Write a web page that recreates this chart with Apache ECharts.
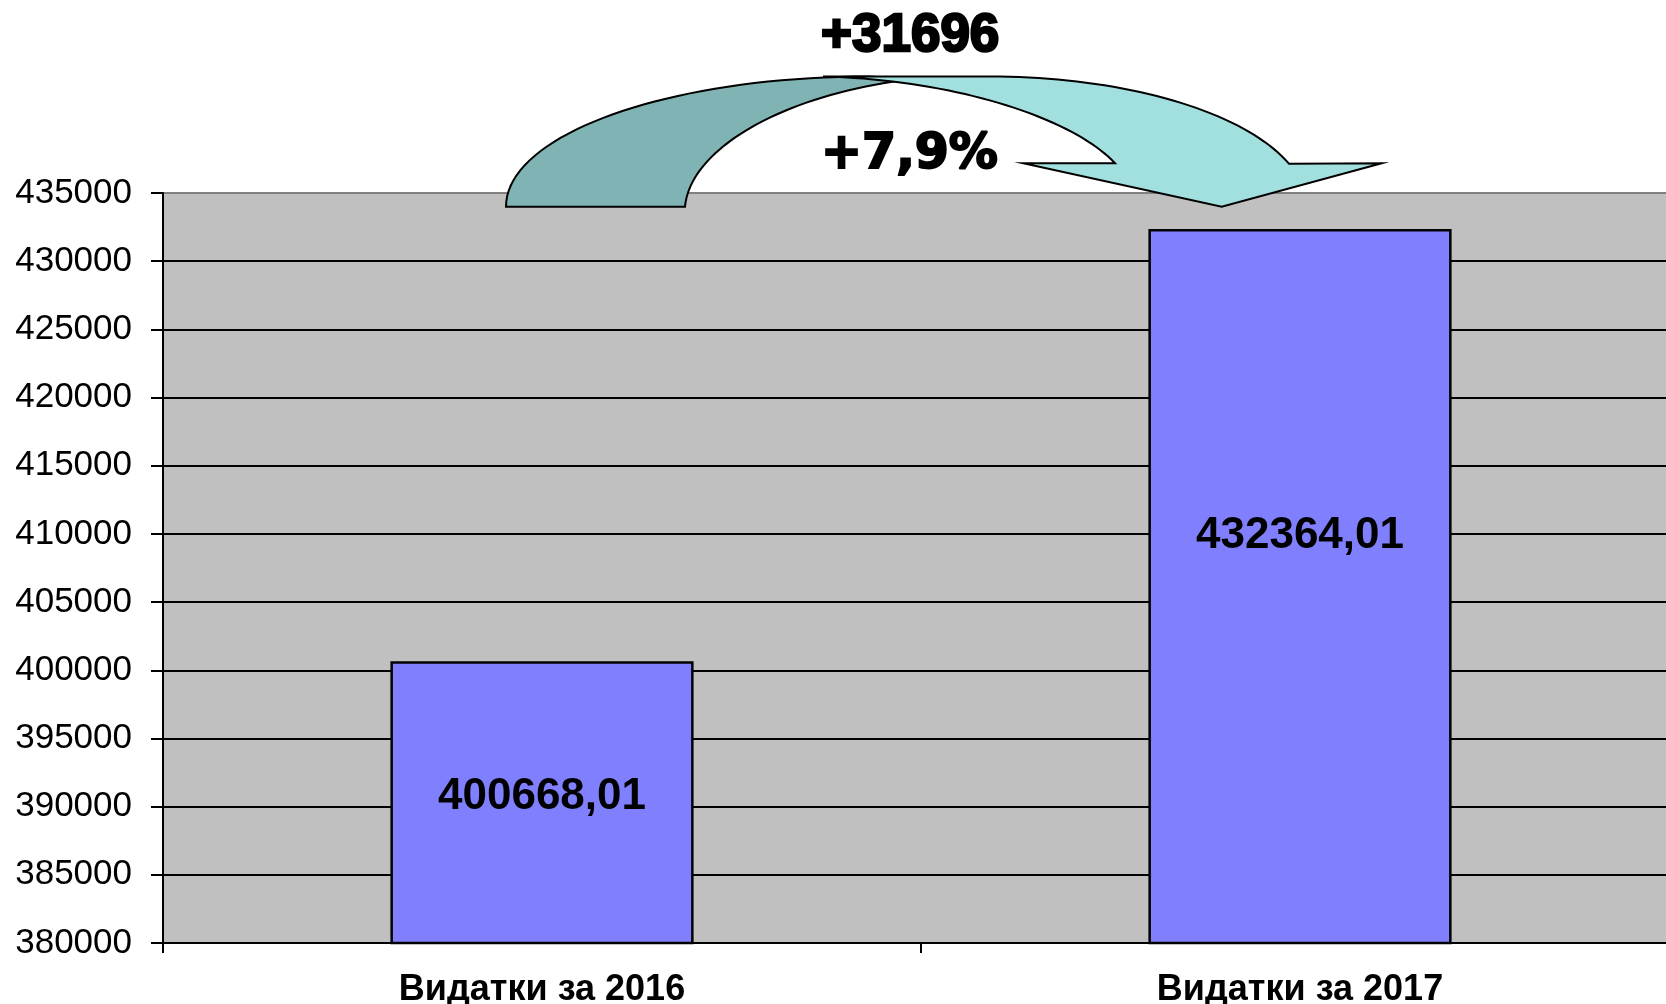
<!DOCTYPE html>
<html>
<head>
<meta charset="utf-8">
<script src="https://cdn.jsdelivr.net/npm/echarts@6/dist/echarts.min.js"></script>
<style>
  html, body { margin: 0; padding: 0; background: #fff; }
  #main { width: 1666px; height: 1004px; }
</style>
</head>
<body>
<div id="main"></div>
<script>
// chart data
const categories = ['Видатки за 2016', 'Видатки за 2017'];
const spending = [400668.01, 432364.01];
const yMin = 380000;
const yMax = 435000;
const yStep = 5000;

// change between the two years, shown over the arrow
const diff = Math.round(spending[1] - spending[0]);
const pct = ((spending[1] - spending[0]) / spending[0] * 100).toFixed(1).replace('.', ',');

const chart = echarts.init(document.getElementById('main'));

// gridline colours: the top line is grey, the rest black
const nLines = (yMax - yMin) / yStep + 1;
const lineColors = [];
for (let i = 0; i < nLines; i++) {
  lineColors.push(i === nLines - 1 ? '#808080' : '#000000');
}

// helpers for the curved arrow outline
function bezier(p0, p1, p2, p3, n) {
  const pts = [];
  for (let i = 0; i <= n; i++) {
    const t = i / n, u = 1 - t;
    pts.push([
      u * u * u * p0[0] + 3 * u * u * t * p1[0] + 3 * u * t * t * p2[0] + t * t * t * p3[0],
      u * u * u * p0[1] + 3 * u * u * t * p1[1] + 3 * u * t * t * p2[1] + t * t * t * p3[1]
    ]);
  }
  return pts;
}
function ellipse(cx, cy, rx, ry, a0, a1, n) {
  const pts = [];
  for (let i = 0; i <= n; i++) {
    const a = a0 + (a1 - a0) * i / n;
    pts.push([cx + rx * Math.cos(a), cy + ry * Math.sin(a)]);
  }
  return pts;
}

// back part (tail rising to the top)
const backPts = [].concat(
  bezier([506, 206.7], [506, 134.5], [668.6, 76.5], [869, 76.5], 40),
  [[912, 79]],
  bezier([912, 79], [780, 95], [690, 150], [685, 206.7], 40)
);

// front part (from the top down to the head)
const ex = 990, ey = 207.2, erx = 317, ery = 130.7;
const endA = Math.atan2((163.3 - ey) / ery, (1291.7 - ex) / erx);
const frontPts = [].concat(
  [[823, 76.5]],
  ellipse(ex, ey, erx, ery, -Math.PI / 2, endA, 40),
  [[1381.7, 163.3], [1221.7, 206.7], [1023.3, 163.3], [1115, 163.3]],
  bezier([1115, 163.3], [1075, 120], [960, 80], [823, 76.5], 40)
);

const option = {
  animation: false,
  backgroundColor: '#ffffff',
  textStyle: { fontFamily: '"Liberation Sans", Arial, sans-serif' },
  grid: {
    left: 163,
    top: 193,
    width: 1516,
    height: 750,
    outerBoundsMode: 'none',
    show: true,
    backgroundColor: '#C0C0C0',
    borderWidth: 0
  },
  xAxis: {
    type: 'category',
    data: categories,
    axisLine: { lineStyle: { color: '#000', width: 2 } },
    axisTick: { show: true, length: 10, lineStyle: { color: '#000', width: 2 } },
    axisLabel: {
      color: '#000',
      fontSize: 36,
      fontWeight: 'bold',
      margin: 29
    }
  },
  yAxis: {
    type: 'value',
    min: yMin,
    max: yMax,
    interval: yStep,
    axisLine: { show: true, lineStyle: { color: '#000', width: 2 } },
    axisTick: { show: true, length: 12, lineStyle: { color: '#000', width: 2 } },
    axisLabel: {
      color: '#000',
      fontSize: 35,
      margin: 31,
      formatter: v => String(v)
    },
    splitLine: { show: true, lineStyle: { color: lineColors, width: 2 } }
  },
  series: [
    {
      type: 'bar',
      barWidth: '40%',
      itemStyle: { color: '#8080FF', borderColor: '#000', borderWidth: 2.5 },
      label: {
        show: true,
        position: 'inside',
        color: '#000',
        fontSize: 44,
        fontWeight: 'bold',
        formatter: p => p.value.toFixed(2).replace('.', ',')
      },
      data: [
        { value: spending[0], label: { offset: [0, -6] } },
        { value: spending[1], label: { offset: [0, -51] } }
      ]
    }
  ],
  graphic: [
    {
      type: 'polygon',
      z: 100,
      shape: { points: backPts },
      style: { fill: '#80B4B4', stroke: '#000', lineWidth: 2 }
    },
    {
      type: 'polygon',
      z: 101,
      shape: { points: frontPts },
      style: { fill: '#A2E0E0', stroke: '#000', lineWidth: 2 }
    },
    {
      type: 'text',
      z: 102,
      x: 821,
      y: 36,
      style: {
        text: '+' + diff,
        font: 'bold 53px "Liberation Sans", Arial, sans-serif',
        fill: '#000',
        stroke: '#000',
        lineWidth: 2.5,
        textAlign: 'left',
        textVerticalAlign: 'middle'
      }
    },
    {
      type: 'text',
      z: 102,
      x: 821,
      y: 155,
      style: {
        text: '+' + pct + '%',
        font: 'bold 49px "DejaVu Sans", sans-serif',
        fill: '#000',
        stroke: '#000',
        lineWidth: 2,
        textAlign: 'left',
        textVerticalAlign: 'middle'
      }
    }
  ]
};

chart.setOption(option);
</script>
</body>
</html>
